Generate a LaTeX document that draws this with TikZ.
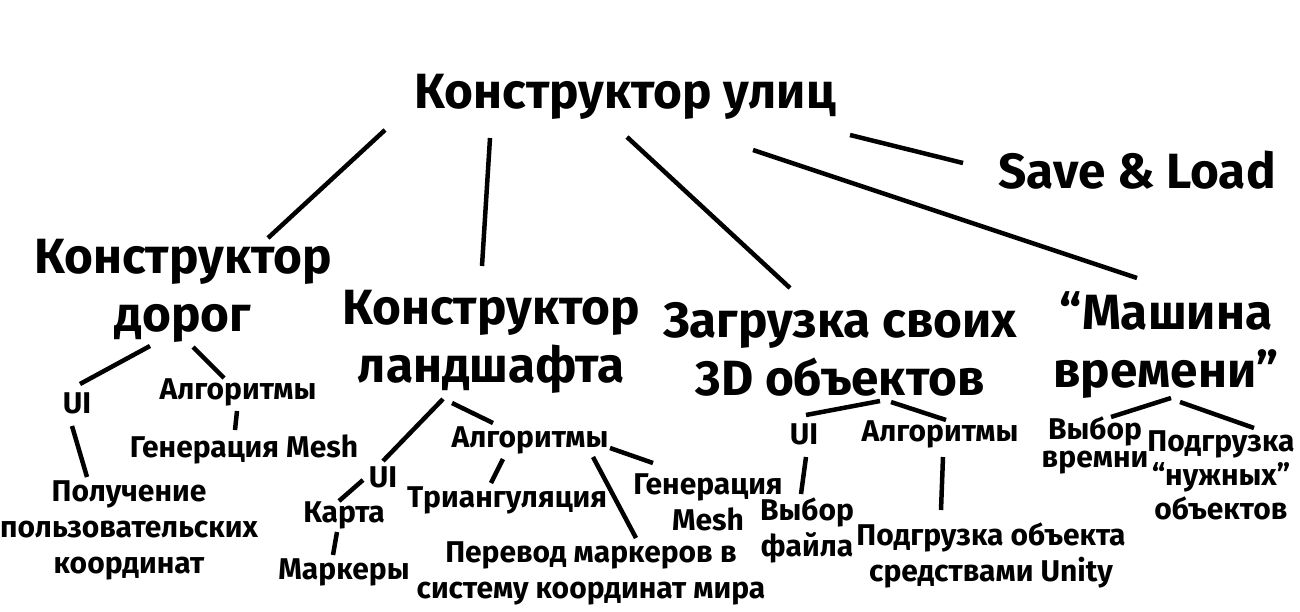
\documentclass[tikz,border=0pt]{standalone}
\usepackage{fontspec}
\setmainfont{Fira Sans}
\begin{document}
\begin{tikzpicture}[x=1pt,y=-1pt,
  big/.style={font=\fontsize{49.5}{58}\selectfont\bfseries, align=center, inner sep=0pt},
  small/.style={font=\fontsize{30}{36}\selectfont\bfseries, align=center, inner sep=0pt},
  conn/.style={line width=4.5pt}]
\useasboundingbox[fill=white] (0,0) rectangle (1300,611);
% level 0
\node[big] (root) at (625,97) {Конструктор улиц};
\node[big] (save) at (1137,170) {Save \& Load};
% level 1
\node[big] (dorog) at (183,291) {Конструктор\\дорог};
\node[big] (land) at (491,342) {Конструктор\\ландшафта};
\node[big] (obj) at (840,349) {Загрузка своих\\3D объектов};
\node[big] (time) at (1166,345) {“Машина\\времени”};
% dorog subtree
\node[small] (dui) at (77,403) {UI};
\node[small] (dalg) at (238,392) {Алгоритмы};
\node[small] (dmesh) at (244,449) {Генерация Mesh};
\node[small] (dcoord) at (129,530) {Получение\\пользовательских\\координат};
% land subtree
\node[small] (lui) at (383,477) {UI};
\node[small] (lalg) at (530,440) {Алгоритмы};
\node[small] (lmap) at (344,515) {Карта};
\node[small] (lmark) at (344,572) {Маркеры};
\node[small] (ltri) at (507,500) {Триангуляция};
\node[small] (ltrans) at (591,573) {Перевод маркеров в\\систему координат мира};
\node[small] (lmesh) at (708,502) {Генерация\\Mesh};
% obj subtree
\node[small] (oui) at (804,434) {UI};
\node[small] (oalg) at (940,434) {Алгоритмы};
\node[small] (ofile) at (807,530) {Выбор\\файла};
\node[small] (oload) at (991,555) {Подгрузка объекта\\средствами Unity};
% time subtree
\node[small, font=\fontsize{30}{28}\selectfont\bfseries] (tsel) at (1095,445) {Выбор\\времни};
\node[small, font=\fontsize{30}{34}\selectfont\bfseries] (tload) at (1221,475) {Подгрузка\\“нужных”\\объектов};
% connector end points
\coordinate (r1) at (385,130); \coordinate (d1) at (268,238);
\coordinate (r2) at (490,138); \coordinate (l1) at (482,266);
\coordinate (r3) at (627,137); \coordinate (o1) at (790,288);
\coordinate (r4) at (753,150); \coordinate (t1) at (1137,278);
\coordinate (r5) at (850,135); \coordinate (s1) at (963,163);
\coordinate (d2) at (150,346); \coordinate (dui1) at (80,384);
\coordinate (d3) at (193,347); \coordinate (dalg1) at (224,378);
\coordinate (dalg2) at (237,411); \coordinate (dmesh1) at (235,430);
\coordinate (dui2) at (72,426); \coordinate (dcoord1) at (87,477);
\coordinate (l2) at (443,399); \coordinate (lui1) at (383,461);
\coordinate (l3) at (452,403); \coordinate (lalg1) at (493,423);
\coordinate (lui2) at (363,480); \coordinate (lmap1) at (339,501);
\coordinate (lmap2) at (337,532); \coordinate (lmark1) at (333,555);
\coordinate (lalg2) at (503,459); \coordinate (ltri1) at (491,483);
\coordinate (lalg3) at (593,457); \coordinate (ltrans1) at (636,538);
\coordinate (lalg4) at (610,448); \coordinate (lmesh1) at (653,463);
\coordinate (o2) at (880,401); \coordinate (oui1) at (806,415);
\coordinate (o3) at (891,402); \coordinate (oalg1) at (946,420);
\coordinate (oui2) at (806,457); \coordinate (ofile1) at (801,494);
\coordinate (oalg2) at (943,457); \coordinate (oload1) at (941,510);
\coordinate (t2) at (1171,398); \coordinate (tsel1) at (1111,417);
\coordinate (t3) at (1180,402); \coordinate (tload1) at (1254,428);
% connectors
\foreach \a/\b in {r1/d1,r2/l1,r3/o1,r4/t1,r5/s1,d2/dui1,d3/dalg1,dalg2/dmesh1,dui2/dcoord1,
  l2/lui1,l3/lalg1,lui2/lmap1,lmap2/lmark1,lalg2/ltri1,lalg3/ltrans1,lalg4/lmesh1,
  o2/oui1,o3/oalg1,oui2/ofile1,oalg2/oload1,t2/tsel1,t3/tload1}
  \draw[conn] (\a) -- (\b);
\end{tikzpicture}
\end{document}
